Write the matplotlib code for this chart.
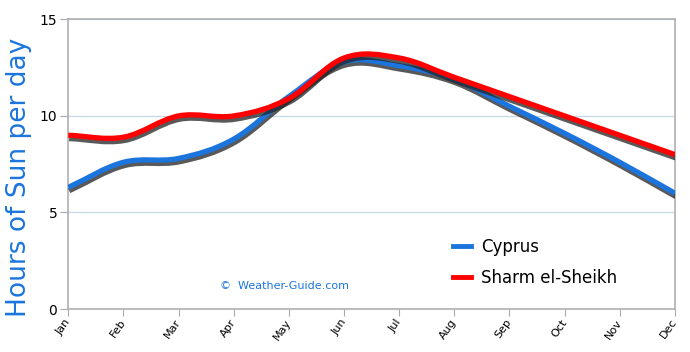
import numpy as np
import matplotlib.pyplot as plt
import matplotlib.patheffects as pe
from matplotlib.path import Path
from matplotlib.patches import PathPatch
from matplotlib.lines import Line2D

months = ['Jan', 'Feb', 'Mar', 'Apr', 'May', 'Jun', 'Jul', 'Aug', 'Sep', 'Oct', 'Nov', 'Dec']
cyprus = [6.3, 7.6, 7.8, 8.8, 11.0, 12.8, 12.6, 11.9, 10.5, 9.1, 7.6, 6.0]
sharm = [9.0, 8.9, 10.0, 10.0, 10.9, 13.0, 13.0, 12.0, 11.0, 10.0, 9.0, 8.0]
series_names = ['Cyprus', 'Sharm el-Sheikh']
series_colors = ['#1b75dc', '#ff0000']


def smooth_path(xs, ys, t=0.35):
    # bezier path through the points (catmull-rom style control points)
    xs = np.asarray(xs, float)
    ys = np.asarray(ys, float)
    n = len(xs)
    verts = [(xs[0], ys[0])]
    codes = [Path.MOVETO]
    for i in range(n - 1):
        i0 = max(i - 1, 0)
        i3 = min(i + 2, n - 1)
        d1x = (xs[i + 1] - xs[i0]) * t / (i + 1 - i0)
        d1y = (ys[i + 1] - ys[i0]) * t / (i + 1 - i0)
        d2x = (xs[i3] - xs[i]) * t / (i3 - i)
        d2y = (ys[i3] - ys[i]) * t / (i3 - i)
        verts += [(xs[i] + d1x, ys[i] + d1y),
                  (xs[i + 1] - d2x, ys[i + 1] - d2y),
                  (xs[i + 1], ys[i + 1])]
        codes += [Path.CURVE4] * 3
    return Path(verts, codes)


fig = plt.figure(figsize=(6.9, 3.52), dpi=100)
ax = fig.add_axes([0.099, 0.122, 0.879, 0.823])

x = np.arange(len(months))
for vals, col in zip([cyprus, sharm], series_colors):
    patch = PathPatch(smooth_path(x, vals), facecolor='none', edgecolor=col,
                      lw=3.8, capstyle='butt', zorder=3,
                      path_effects=[pe.SimpleLineShadow(offset=(0.6, -2.4), shadow_color='#222222', alpha=0.75),
                                    pe.Normal()])
    ax.add_patch(patch)

ax.set_xlim(0, 11)
ax.set_ylim(0, 15)
ax.set_yticks([0, 5, 10, 15])
ax.set_xticks(x)
ax.set_xticklabels(months, fontsize=8)
ax.tick_params(axis='y', labelsize=10, length=6, color='#aaaaaa', pad=2)
ax.tick_params(axis='x', length=5, color='#aaaaaa', pad=3)
for lab in ax.get_xticklabels():
    lab.set_rotation(55)
    lab.set_rotation_mode('anchor')
    lab.set_ha('right')
    lab.set_va('center')
ax.grid(axis='y', color='#c5d8ee', lw=0.9)
ax.set_axisbelow(True)
for s in ax.spines.values():
    s.set_color('#b0b0b0')
    s.set_linewidth(1.2)

ax.set_ylabel('Hours of Sun per day', fontsize=19, color='#1b75dc')
ax.yaxis.set_label_coords(-0.06, 0.455)

handles = [Line2D([], [], color=c, lw=3.5) for c in series_colors]
leg = ax.legend(handles, series_names, loc='lower right', bbox_to_anchor=(0.93, 0.025),
                frameon=False, fontsize=12, handlelength=1.1, handletextpad=0.6,
                labelspacing=0.75)

ax.text(0.25, 0.08, '\u00a9  Weather-Guide.com', transform=ax.transAxes,
        fontsize=8, color='#1b75dc', va='center')

fig.savefig('out.png', dpi=100)
